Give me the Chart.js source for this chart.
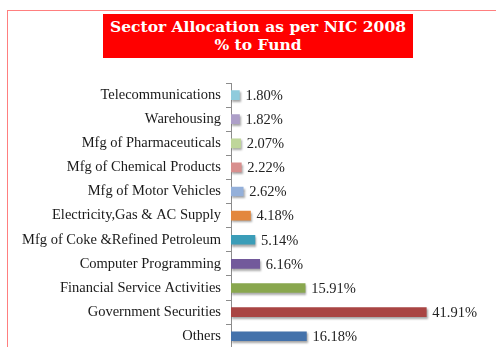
<!DOCTYPE html>
<html>
<head>
<meta charset="utf-8">
<script src="https://cdn.jsdelivr.net/npm/chart.js@4"></script>
<style>
  html, body { margin: 0; padding: 0; background: #fff; overflow: hidden; }
  #frame { position: absolute; left: 7px; top: 10px; width: 600px; height: 500px; border: 1px solid #ff7f7f; }
  #wrap { position: absolute; left: 0; top: 0; width: 496px; height: 347px; overflow: hidden; }
  #title {
    position: absolute; left: 103px; top: 14px; width: 310px; height: 44px;
    background: #ff0000; color: #fff; text-align: center;
    font: bold 15.5px "DejaVu Serif", serif; line-height: 18px; padding-top: 4px; box-sizing: border-box;
  }
</style>
</head>
<body>
<div id="frame"></div>
<div id="wrap"><canvas id="sector-chart" width="496" height="362"></canvas></div>
<div id="title">Sector Allocation as per NIC 2008<br>% to Fund</div>
<script>
const sectors = ['Telecommunications', 'Warehousing', 'Mfg of Pharmaceuticals', 'Mfg of Chemical Products',
  'Mfg of Motor Vehicles', 'Electricity,Gas & AC Supply', 'Mfg of Coke &Refined Petroleum',
  'Computer Programming', 'Financial Service Activities', 'Government Securities', 'Others'];
const fundShare = [1.80, 1.82, 2.07, 2.22, 2.62, 4.18, 5.14, 6.16, 15.91, 41.91, 16.18];
const barColors = ['#8fcbdc', '#ad9fc8', '#bfd69a', '#d88f8e', '#94b0da', '#e3873d',
  '#3b9db8', '#72599b', '#89a74e', '#a94543', '#4472ab'];

const serif = '"Liberation Serif", "Times New Roman", serif';

// soft shadow under the bars, like the excel one
const barShadow = {
  id: 'barShadow',
  beforeDatasetDraw(chart) {
    const ctx = chart.ctx;
    ctx.shadowColor = 'rgba(0,0,0,0.35)';
    ctx.shadowOffsetX = 1;
    ctx.shadowOffsetY = 2;
    ctx.shadowBlur = 2;
  },
  afterDatasetDraw(chart) {
    const ctx = chart.ctx;
    ctx.shadowColor = 'transparent';
    ctx.shadowBlur = 0;
    ctx.shadowOffsetX = 0;
    ctx.shadowOffsetY = 0;
  }
};

const valueLabels = {
  id: 'valueLabels',
  afterDatasetsDraw(chart) {
    const ctx = chart.ctx;
    ctx.save();
    ctx.font = '14.5px ' + serif;
    ctx.fillStyle = '#222';
    ctx.textAlign = 'left';
    ctx.textBaseline = 'middle';
    chart.getDatasetMeta(0).data.forEach((bar, i) => {
      ctx.fillText(fundShare[i].toFixed(2) + '%', bar.x + 6, bar.y + 1);
    });
    ctx.restore();
  }
};

let sectorChart = new Chart(document.getElementById('sector-chart'), {
  type: 'bar',
  data: {
    labels: sectors,
    datasets: [{
      data: fundShare,
      backgroundColor: barColors,
      barThickness: 9
    }]
  },
  options: {
    indexAxis: 'y',
    responsive: false,
    animation: false,
    layout: { padding: { top: 83, right: 32, bottom: 0, left: 0 } },
    plugins: {
      legend: { display: false },
      tooltip: { enabled: false }
    },
    scales: {
      x: { display: false, min: 0, max: 50 },
      y: {
        afterFit(axis) { axis.width = 231; },
        border: { display: true, color: '#8c8c8c' },
        grid: { drawOnChartArea: false, drawTicks: true, tickLength: 5, color: '#8c8c8c' },
        ticks: { padding: 5, color: '#1a1a1a', font: { family: serif, size: 14.5 } }
      }
    }
  },
  plugins: [barShadow, valueLabels]
});
</script>
</body>
</html>
